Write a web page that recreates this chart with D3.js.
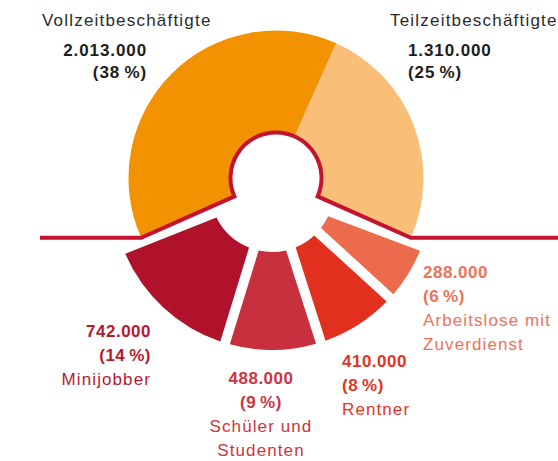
<!DOCTYPE html>
<html>
<head>
<meta charset="utf-8">
<script src="https://cdn.jsdelivr.net/npm/d3@7"></script>
<style>
  body { margin: 0; background: #fff; }
  svg { display: block; font-family: "Liberation Sans", Arial, sans-serif; }
</style>
</head>
<body>
<div id="chart"></div>
<script>
// upper half: regular jobs
var topCategories = ["Vollzeitbeschäftigte", "Teilzeitbeschäftigte"];
var topValues = [2013000, 1310000];
var topShares = [38, 25];

// lower half: side jobs, clockwise from the right
var bottomCategories = ["Arbeitslose mit Zuverdienst", "Rentner", "Schüler und Studenten", "Minijobber"];
var bottomLines = [["Arbeitslose mit", "Zuverdienst"], ["Rentner"], ["Schüler und", "Studenten"], ["Minijobber"]];
var bottomValues = [288000, 410000, 488000, 742000];
var bottomShares = [6, 8, 9, 14];

var topColors = ["#f39200", "#f9be78"];
var bottomColors = ["#ec6b4d", "#e2301f", "#c9303d", "#b0112b"];
var bottomTextColors = ["#ee7257", "#e3341f", "#cc3441", "#b8182f"];
var lineColor = "#c4122f";

var width = 558, height = 461;
var cx = 276, cy = 178;
var rIn = 45.5, rOut = 147.5;
// the lower group sits a little lower and left, slightly rotated
var bcx = cx - 4, bcy = cy + 12;
var bIn = 62, bOut = 160, gap = 10;

var de = d3.formatLocale({decimal: ",", thousands: ".", grouping: [3], currency: ["", " €"]});
var fmt = de.format(",");
var pct = function(s) { return "(" + s + "\u2009%)"; };

var svg = d3.select("#chart").append("svg")
  .attr("width", width)
  .attr("height", height);

var total = d3.sum(topValues) + d3.sum(bottomValues);
var half = Math.PI * d3.sum(topValues) / total;
var deg = Math.PI / 180;

var topPie = d3.pie().sort(null).startAngle(-half).endAngle(half);
var topArcs = topPie(topValues);

var bPad = gap / Math.sqrt(bIn * bIn + bOut * bOut);
var bottomPie = d3.pie().sort(null)
  .startAngle(half - 3.4 * deg)
  .endAngle(2 * Math.PI - half + 2.2 * deg)
  .padAngle(bPad);
var bottomArcs = bottomPie(bottomValues);

var arcTop = d3.arc().innerRadius(rIn).outerRadius(rOut);
var arcBottom = d3.arc().innerRadius(bIn).outerRadius(bOut);

// lower pieces
svg.append("g")
  .attr("transform", "translate(" + bcx + "," + bcy + ")")
  .selectAll("path")
  .data(bottomArcs)
  .join("path")
  .attr("d", arcBottom)
  .attr("fill", function(d, i) { return bottomColors[i]; });

// upper pieces
svg.append("g")
  .attr("transform", "translate(" + cx + "," + cy + ")")
  .selectAll("path")
  .data(topArcs)
  .join("path")
  .attr("d", arcTop)
  .attr("fill", function(d, i) { return topColors[i]; });

// red dividing line running round the hole
function pointAt(a, r) { return [cx + r * Math.sin(a), cy - r * Math.cos(a)]; }
var kL = pointAt(-half, rOut), iL = pointAt(-half, rIn);
var kR = pointAt(half, rOut);
var p = d3.path();
p.moveTo(40, kL[1]);
p.lineTo(kL[0], kL[1]);
p.lineTo(iL[0], iL[1]);
p.arc(cx, cy, rIn, -half - Math.PI / 2, half - Math.PI / 2, false);
p.lineTo(kR[0], kR[1]);
p.lineTo(width, kR[1]);

svg.append("path")
  .attr("d", p.toString())
  .attr("fill", "none")
  .attr("stroke", lineColor)
  .attr("stroke-width", 4)
  .attr("stroke-linejoin", "miter");

// labels upper half
var topLayout = [
  {tx: 42, ta: "start", vx: 147, va: "end"},
  {tx: 390, ta: "start", vx: 408, va: "start"}
];
topCategories.forEach(function(c, i) {
  var L = topLayout[i];
  svg.append("text")
    .attr("x", L.tx).attr("y", 26)
    .attr("text-anchor", L.ta)
    .attr("fill", "#2b2b2b")
    .style("font-size", "17px")
    .style("letter-spacing", "1.2px")
    .text(c);
  svg.append("text")
    .attr("x", L.vx).attr("y", 56)
    .attr("text-anchor", L.va)
    .attr("fill", "#1d1d1b")
    .style("font-size", "17px")
    .style("font-weight", "bold")
    .style("letter-spacing", "0.9px")
    .text(fmt(topValues[i]));
  svg.append("text")
    .attr("x", L.vx).attr("y", 78)
    .attr("text-anchor", L.va)
    .attr("fill", "#1d1d1b")
    .style("font-size", "17px")
    .style("font-weight", "bold")
    .style("letter-spacing", "0.9px")
    .text(pct(topShares[i]));
});

// labels lower half
var bottomLayout = [
  {x: 423, anchor: "start", y: 278},
  {x: 342, anchor: "start", y: 367},
  {x: 261, anchor: "middle", y: 384},
  {x: 151, anchor: "end", y: 337}
];
var lh = 24;
bottomCategories.forEach(function(c, i) {
  var L = bottomLayout[i];
  var g = svg.append("g")
    .attr("fill", bottomTextColors[i])
    .attr("text-anchor", L.anchor)
    .style("font-size", "17px");
  g.append("text")
    .attr("x", L.x).attr("y", L.y)
    .style("font-weight", "bold")
    .style("letter-spacing", "0.5px")
    .text(fmt(bottomValues[i]));
  g.append("text")
    .attr("x", L.x).attr("y", L.y + lh)
    .style("font-weight", "bold")
    .style("letter-spacing", "0.5px")
    .text(pct(bottomShares[i]));
  bottomLines[i].forEach(function(t, j) {
    g.append("text")
      .attr("x", L.x).attr("y", L.y + lh * (2 + j))
      .style("letter-spacing", "1.1px")
      .text(t);
  });
});
</script>
</body>
</html>
